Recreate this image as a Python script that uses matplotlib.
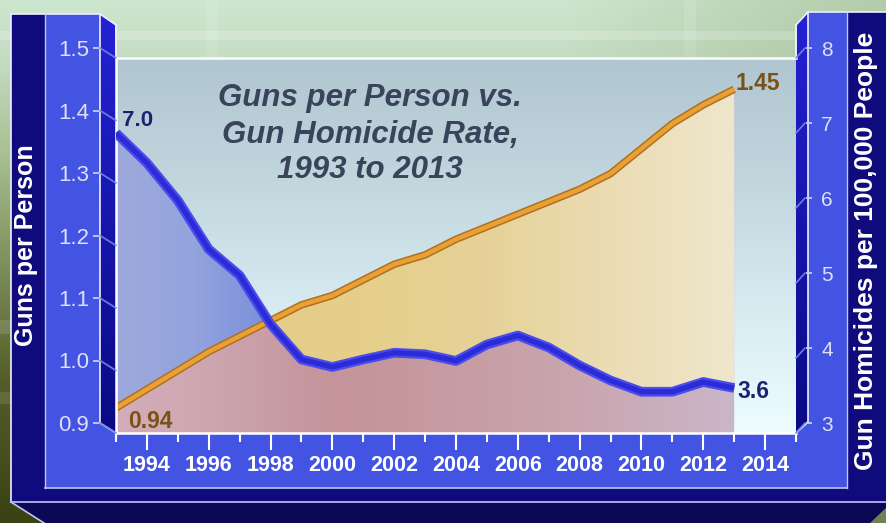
import numpy as np
import matplotlib
matplotlib.use("Agg")
import matplotlib.pyplot as plt
from matplotlib.patches import Polygon, Rectangle, PathPatch, ConnectionPatch
from matplotlib.path import Path
from matplotlib.colors import to_rgb
from matplotlib.lines import Line2D
import matplotlib.patheffects as pe

plt.rcParams['font.family'] = ['Liberation Sans', 'DejaVu Sans']

# ---- data -------------------------------------------------------------
years = list(range(1993, 2014))
guns_per_person = [0.94, 0.97, 1.00, 1.03, 1.055, 1.08, 1.105, 1.12, 1.145, 1.17,
                   1.185, 1.21, 1.23, 1.25, 1.27, 1.29, 1.315, 1.355, 1.395, 1.425, 1.45]
gun_homicide_rate = [7.0, 6.6, 6.1, 5.45, 5.1, 4.45, 3.98, 3.88, 3.98, 4.07,
                     4.05, 3.96, 4.18, 4.3, 4.14, 3.9, 3.7, 3.55, 3.55, 3.68, 3.6]

x_major_ticks = list(range(1994, 2015, 2))
x_minor_ticks = list(range(1993, 2016, 2))
left_ticks = [0.9, 1.0, 1.1, 1.2, 1.3, 1.4, 1.5]
right_ticks = [3, 4, 5, 6, 7, 8]
title_lines = ["Guns per Person vs.", "Gun Homicide Rate,", "1993 to 2013"]
left_label = "Guns per Person"
right_label = "Gun Homicides per 100,000 People"

# ---- figure geometry (pixel helpers) ------------------------------------
W, H = 887, 523
fig = plt.figure(figsize=(W / 100, H / 100), dpi=100)


def px_rect(x0, y0, x1, y1):
    """Axes rectangle from pixel box measured from the top-left corner."""
    return [x0 / W, 1 - y1 / H, (x1 - x0) / W, (y1 - y0) / H]


def mix(a, b, t):
    return a * (1 - t) + np.asarray(b) * t


# ---- backdrop axes in pixel coordinates ---------------------------------
bg = fig.add_axes([0, 0, 1, 1], zorder=-10)
bg.set_xlim(0, W)
bg.set_ylim(H, 0)
bg.axis('off')

vstops = [(0, '#cde6cf'), (60, '#c4dcc2'), (150, '#a9c193'), (260, '#7f915c'),
          (380, '#545e28'), (523, '#3a4214')]
ys = np.arange(H)
vcol = np.stack([np.interp(ys, [s[0] for s in vstops], [to_rgb(s[1])[c] for s in vstops])
                 for c in range(3)], axis=1)
img = np.repeat(vcol[:, None, :], W, axis=1)
xs = np.arange(W)
t_right = np.clip((xs - 560) / 327.0, 0, 1) * 0.55
img = mix(img, to_rgb('#9db68a'), t_right[None, :, None])
white = np.array([1.0, 1.0, 1.0])
img[31:40, :] = mix(img[31:40, :], white, 0.18)
img[:, 206:218] = mix(img[:, 206:218], white, 0.12)
img[:, 684:696] = mix(img[:, 684:696], white, 0.10)
img[320:334, :] = mix(img[320:334, :], white, 0.12)
img[392:404, :] = mix(img[392:404, :], white, 0.10)
bg.imshow(img, extent=(0, W, H, 0), aspect='auto', zorder=0, interpolation='bilinear')

NAVY = '#0f0b7d'
BLUE = '#4354e2'
DARK = '#0b0955'
LAV = '#c4c4f0'
WHT = '#eeeeff'

# bevelled base
bg.add_patch(Polygon([(11, 502), (887, 502), (887, 507), (870, 523), (44, 523)],
                     closed=True, fc=DARK, ec='none', zorder=2))
# navy frame
bg.add_patch(Rectangle((11, 14), 34, 488, fc=NAVY, ec='none', zorder=2))
bg.add_patch(Rectangle((11, 488), 876, 14, fc=NAVY, ec='none', zorder=2))
bg.add_patch(Rectangle((847, 12), 40, 490, fc=NAVY, ec='none', zorder=2))
# blue tick columns and bottom band
bg.add_patch(Rectangle((45, 14), 55, 420, fc=BLUE, ec='none', zorder=3))
bg.add_patch(Rectangle((45, 423), 802, 65, fc=BLUE, ec='none', zorder=3))
bg.add_patch(Rectangle((808, 12), 39, 422, fc=BLUE, ec='none', zorder=3))

# slanted side strips
strip_grad = np.stack([np.linspace(0, 1, 200)] * 2, axis=1)
strip_rgb = mix(np.array(to_rgb('#2422d4'))[None, None, :],
                np.array(to_rgb('#0a0a84'))[None, None, :], strip_grad[:, :, None])
for poly_pts, ext in [([(100, 14), (116, 25), (116, 433), (100, 423)], (100, 116, 433, 14)),
                      ([(796, 25), (808, 12), (808, 422), (796, 433)], (796, 808, 433, 12))]:
    clip = Polygon(poly_pts, closed=True, fc='none', ec='none', transform=bg.transData)
    bg.add_patch(clip)
    im = bg.imshow(strip_rgb, extent=ext, aspect='auto', zorder=4)
    im.set_clip_path(clip)
bg.set_xlim(0, W)
bg.set_ylim(H, 0)

# frame outlines
outline = [
    ([11, 11], [14, 502], WHT, 1.2), ([11, 100], [14, 14], WHT, 1.2),
    ([45, 45], [14, 488], LAV, 1.0), ([100, 100], [14, 423], WHT, 1.2),
    ([100, 116], [14, 25], WHT, 1.2), ([116, 116], [25, 58], WHT, 1.4),
    ([100, 116], [423, 433], WHT, 1.2), ([45, 847], [488, 488], LAV, 1.2),
    ([11, 887], [502, 502], LAV, 1.2), ([11, 44], [502, 523], LAV, 1.2),
    ([796, 808], [25, 12], WHT, 1.2), ([796, 796], [25, 58], WHT, 1.4),
    ([808, 808], [12, 422], WHT, 1.2), ([796, 808], [433, 422], WHT, 1.2),
    ([808, 887], [12, 12], WHT, 1.2), ([847, 847], [12, 488], LAV, 1.0),
]
for xs_, ys_, c, lw in outline:
    bg.add_line(Line2D(xs_, ys_, color=c, lw=lw, zorder=6))

# ---- main panel --------------------------------------------------------
ax = fig.add_axes(px_rect(116, 58, 796, 433))
ax.set_xlim(1993, 2015)
ax.set_ylim(0.9, 1.5)
ax.patch.set_visible(False)
ax2 = ax.twinx()
ax2.set_ylim(3, 8)
ax2.patch.set_visible(False)
for s in ax2.spines.values():
    s.set_visible(False)
ax2.tick_params(axis='y', right=False, labelright=False)

# panel background
pg = np.linspace(0, 1, 256)[:, None]
pstops = [(0.0, '#b0c6d0'), (0.35, '#c3d7df'), (0.7, '#d9edf3'), (1.0, '#eefcff')]
pcol = np.stack([np.interp(pg[:, 0], [s[0] for s in pstops], [to_rgb(s[1])[c] for s in pstops])
                 for c in range(3)], axis=1)
ax.imshow(np.repeat(pcol[:, None, :], 2, axis=1), extent=(1993, 2015, 0.9, 1.5),
          aspect='auto', zorder=0, origin='upper')

g = np.array(guns_per_person)
pts = np.column_stack([years, gun_homicide_rate])
h = ax.transData.inverted().transform(ax2.transData.transform(pts))[:, 1]
yrs = np.array(years, dtype=float)


def region(coll):
    paths = list(coll.get_paths())
    coll.remove()
    patch = PathPatch(Path.make_compound_path(*paths), fc='none', ec='none',
                      transform=ax.transData)
    ax.add_patch(patch)
    return patch


def hgrad(stops, patch, z):
    xg = np.linspace(1993, 2013, 400)
    col = np.stack([np.interp(xg, [s[0] for s in stops], [to_rgb(s[1])[c] for s in stops])
                    for c in range(3)], axis=1)
    im = ax.imshow(np.repeat(col[None, :, :], 2, axis=0), extent=(1993, 2013, 0.9, 1.5),
                   aspect='auto', zorder=z)
    im.set_clip_path(patch)


# shared area under the guns curve is painted first; the single-series
# bands above the lower curve are painted over it
under_guns = region(ax.fill_between(yrs, 0.9, g))
blue_only = region(ax.fill_between(yrs, g, h, where=h >= g, interpolate=True))
yellow_only = region(ax.fill_between(yrs, h, g, where=g >= h, interpolate=True))

hgrad([(1993, '#d2aeba'), (1996, '#cda6b0'), (2000, '#c4949a'), (2004, '#c79ca2'),
       (2008, '#c9a6b0'), (2013, '#cbb6c8')], under_guns, 1)
hgrad([(1997, '#e4cc88'), (2001, '#e5cf8a'), (2005, '#e6d298'), (2009, '#ebdcb4'),
       (2013, '#efe6cc')], yellow_only, 1.1)
hgrad([(1993, '#9eaadc'), (1995.5, '#93a3dc'), (1998, '#7a8fdc')], blue_only, 1.1)

ax.set_xlim(1993, 2015)
ax.set_ylim(0.9, 1.5)

ax.plot(years, guns_per_person, color='#e9a035', lw=3.2, solid_joinstyle='round',
        solid_capstyle='butt', zorder=3,
        path_effects=[pe.Stroke(linewidth=5.4, foreground='#b07020'), pe.Normal()])
ax2.plot(years, gun_homicide_rate, color='#2b2bd8', lw=3.8, solid_joinstyle='round',
         solid_capstyle='butt', zorder=3,
         path_effects=[pe.Stroke(linewidth=7.0, foreground='#4a4cec'), pe.Normal()])

# spines and ticks of the panel
for side in ['top', 'left', 'bottom']:
    ax.spines[side].set_color('white')
    ax.spines[side].set_linewidth(1.8)
    ax.spines[side].set_zorder(5)
ax.spines['right'].set_visible(False)
ax.tick_params(axis='y', left=False, labelleft=False)
ax.set_xticks(x_major_ticks)
ax.set_xticks(x_minor_ticks, minor=True)
ax.set_xticklabels([str(v) for v in x_major_ticks], fontweight='bold')
ax.tick_params(axis='x', which='major', direction='out', length=12, width=1.5,
               color='white', pad=4, labelsize=15.5, labelcolor='white')
ax.tick_params(axis='x', which='minor', direction='out', length=6.5, width=1.5, color='white')

# value labels at the ends of each series
brown = '#7a5218'
navy_txt = '#1b2270'
ax2.annotate(f"{gun_homicide_rate[0]:.1f}", (years[0], gun_homicide_rate[0]),
             xytext=(4.5, 5), textcoords='offset points', ha='left', va='baseline',
             fontsize=16, fontweight='bold', color=navy_txt, annotation_clip=False, zorder=6)
ax2.annotate(f"{gun_homicide_rate[-1]:.1f}", (years[-1], gun_homicide_rate[-1]),
             xytext=(2, -2.5), textcoords='offset points', ha='left', va='center',
             fontsize=16.5, fontweight='bold', color=navy_txt, annotation_clip=False, zorder=6)
ax.annotate(f"{guns_per_person[0]:.2f}", (years[0], guns_per_person[0]),
            xytext=(8.5, -1.5), textcoords='offset points', ha='left', va='top',
            fontsize=16.5, fontweight='bold', color=brown, annotation_clip=False, zorder=6)
ax.annotate(f"{guns_per_person[-1]:.2f}", (years[-1], guns_per_person[-1]),
            xytext=(0.8, 4), textcoords='offset points', ha='left', va='center',
            fontsize=16.5, fontweight='bold', color=brown, annotation_clip=False, zorder=6)

# title inside the panel (placed with the backdrop's pixel coordinates)
for line, base in zip(title_lines, [106, 143, 178]):
    ax2.text(370, base, line, transform=bg.transData, ha='center', va='baseline',
             fontsize=22.5, fontweight='bold', fontstyle='italic', color='#39435a', zorder=20)

# ---- offset tick columns ------------------------------------------------
ax_l = fig.add_axes(px_rect(100, 48, 101, 423))
ax_l.set_ylim(0.9, 1.5)
ax_l.patch.set_visible(False)
for s in ax_l.spines.values():
    s.set_visible(False)
ax_l.set_xticks([])
ax_l.set_yticks(left_ticks)
ax_l.set_yticklabels([f"{v:.1f}" for v in left_ticks])
ax_l.tick_params(axis='y', direction='out', length=5, width=1.3, color='#c8ccf2',
                 pad=3, labelsize=16, labelcolor='#dde0f8')

ax_r = fig.add_axes(px_rect(805, 48, 806, 423))
ax_r.set_ylim(3, 8)
ax_r.patch.set_visible(False)
for s in ax_r.spines.values():
    s.set_visible(False)
ax_r.set_xticks([])
ax_r.yaxis.tick_right()
ax_r.set_yticks(right_ticks)
ax_r.set_yticklabels([str(v) for v in right_ticks])
ax_r.tick_params(axis='y', direction='out', length=4, width=1.3, color='#c8ccf2',
                 pad=7, labelsize=15, labelcolor='#dde0f8')

# slanted connectors from the tick columns to the panel edges
for v in left_ticks:
    fig.add_artist(ConnectionPatch(xyA=(0, v), coordsA=ax_l.get_yaxis_transform(),
                                   xyB=(0, v), coordsB=ax.get_yaxis_transform(),
                                   color='#6f86dd', lw=1.3, alpha=0.9))
for v in right_ticks:
    fig.add_artist(ConnectionPatch(xyA=(0, v), coordsA=ax_r.get_yaxis_transform(),
                                   xyB=(1, v), coordsB=ax2.get_yaxis_transform(),
                                   color='#6f86dd', lw=1.3, alpha=0.9))

# axis titles in the navy columns
bg.text(26, 245, left_label, rotation=90, ha='center', va='center', fontsize=18,
        fontweight='bold', color='white', zorder=20)
bg.text(866, 251, right_label, rotation=90, ha='center', va='center', fontsize=19,
        fontweight='bold', color='white', zorder=20)

fig.savefig('out.png', dpi=100)
